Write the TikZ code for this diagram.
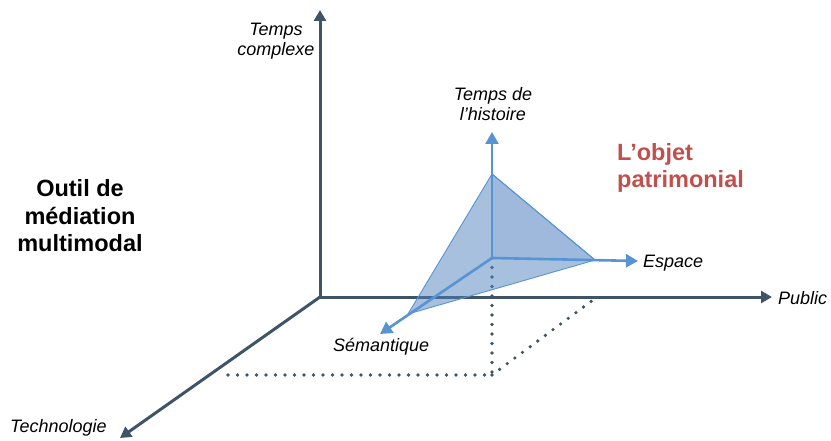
\documentclass[tikz,border=0pt]{standalone}
\usepackage{fontspec}
\setmainfont{Liberation Sans}
\usepackage{tikz}
\usetikzlibrary{arrows.meta,positioning}
\definecolor{ardoise}{RGB}{64,84,104}
\definecolor{bleuax}{RGB}{88,148,212}
\definecolor{bleuface}{RGB}{79,129,189}
\definecolor{rougeobj}{RGB}{192,80,77}

\begin{document}
\begin{tikzpicture}[x=1pt, y=-1pt,
		axe/.style={line width=3pt, ardoise, -{Triangle[length=11pt, width=12pt]}},
		axeobj/.style={line width=2.6pt, bleuax, -{Triangle[length=12pt, width=13pt]}},
		face/.style={fill=bleuface, fill opacity=0.5, draw=bleuax, line width=0.9pt},
		pointille/.style={ardoise, line width=3.6pt, line cap=round, dash pattern=on 0pt off 9.5pt},
		etiq/.style={font=\fontsize{18}{20.5}\selectfont\itshape, inner sep=0pt, align=center},
		titre/.style={font=\fontsize{23.5}{27.5}\selectfont\bfseries, inner sep=0pt}
		]
	
		\useasboundingbox (0,0) rectangle (831,441);
	
		% Repere principal
		\coordinate (O) at (320, 297);
		\coordinate (Zt) at (320, 10);
		\coordinate (Xt) at (772, 297);
		\coordinate (Yt) at (120, 438);
	
		% Repere de l'objet
		\coordinate (P) at (492, 258);
		\coordinate (Ht) at (492, 132);
		\coordinate (Et) at (638, 261);
		\coordinate (St) at (380, 334);
		\coordinate (T) at (492, 174);
		\coordinate (R) at (595, 260);
		\coordinate (L) at (408, 314);
	
		% Projections
		\coordinate (D) at (492, 375);
		\coordinate (Dg) at (228, 375);
		\coordinate (Dd) at (597, 297);
	
		\draw[pointille] (P) -- (D);
		\draw[pointille] (Dg) -- (D);
		\draw[pointille] (D) -- (Dd);
	
		\draw[axe] (O) -- (Zt);
		\draw[axe] (O) -- (Xt);
		\draw[axe] (O) -- (Yt);
	
		% Tetraedre
		\draw[face, fill opacity=0.1] (T) -- (P) -- (R) -- cycle;
		\draw[face] (T) -- (L) -- (R) -- cycle;
	
		\draw[axeobj] (P) -- (Ht);
		\draw[axeobj] (P) -- (Et);
		\draw[axeobj] (P) -- (St);
	
		% Etiquettes
		\node[etiq] (tc) at (276, 41) {Temps\\complexe};
		\node[etiq] (th) at (493, 104) {Temps de\\l’histoire};
		\node[etiq, anchor=base west] (es) at (643, 268) {Espace};
		\node[etiq, anchor=base west] (pu) at (778, 305) {Public};
		\node[etiq, anchor=base west] (se) at (333, 351) {Sémantique};
		\node[etiq, anchor=base west] (te) at (10, 432) {Technologie};
	
		\node[titre, align=center] (om) at (80, 216) {Outil de\\médiation\\multimodal};
		\node[titre, align=left, rougeobj, anchor=west] (op) at (617, 168) {L’objet\\patrimonial};
	\end{tikzpicture}
\end{document}
